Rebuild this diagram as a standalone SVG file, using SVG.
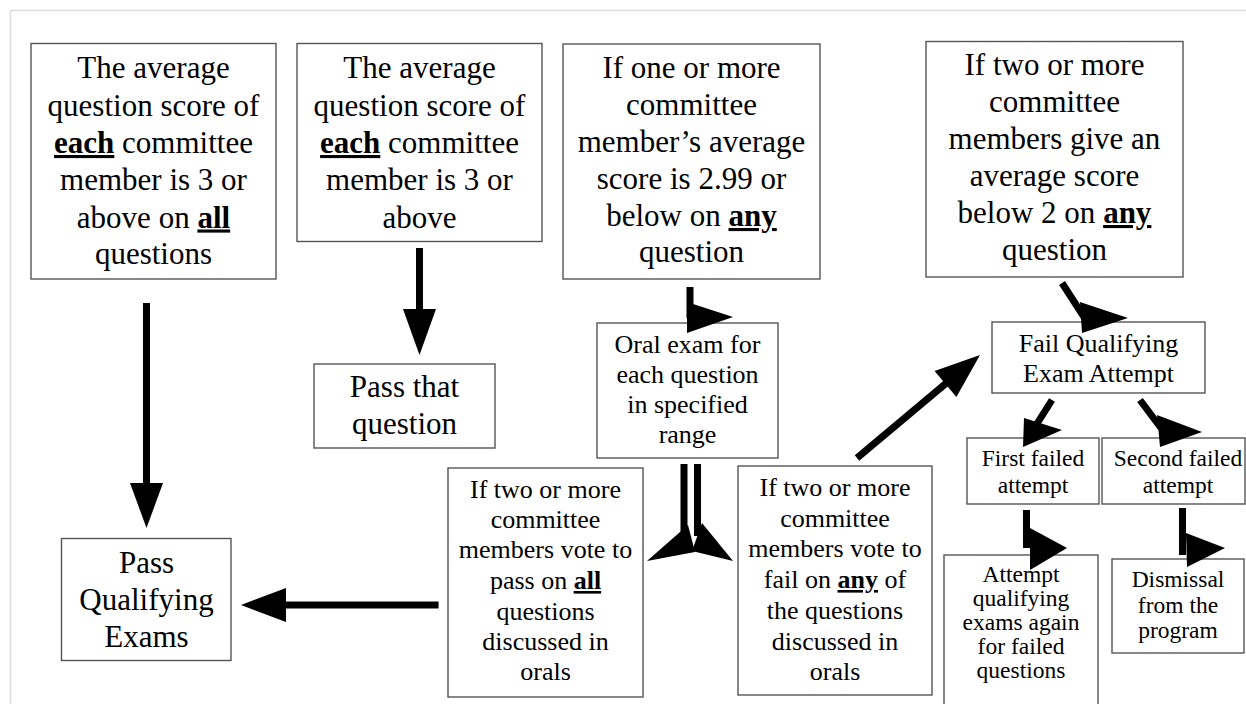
<svg xmlns="http://www.w3.org/2000/svg" width="1246" height="704" viewBox="0 0 1246 704">
<style>
.box{fill:#fff;stroke:#555;stroke-width:1.4}
.t{font-family:"Liberation Serif","Times New Roman",serif;fill:#000;text-anchor:middle}
.l{font-size:31px}
.m{font-size:26px}
.s{font-size:23.5px}
.b{font-weight:bold;text-decoration:underline}
.sh{stroke:#000;stroke-width:7;fill:none}
.hd{fill:#000}
</style>
<rect x="0" y="0" width="1246" height="704" fill="#fff"/>
<path d="M10.5 704 V10.5 H1246" fill="none" stroke="#dcdcdc" stroke-width="1.5"/>

<g id="n1">
<rect class="box" x="31" y="43.5" width="245" height="235.5"/>
<text class="t l" x="153.5" y="78">The average</text>
<text class="t l" x="153.5" y="115.5">question score of</text>
<text class="t l" x="153.5" y="153"><tspan class="b">each</tspan> committee</text>
<text class="t l" x="153.5" y="190">member is 3 or</text>
<text class="t l" x="153.5" y="227.5">above on <tspan class="b">all</tspan></text>
<text class="t l" x="153.5" y="264">questions</text>
</g>

<g id="n2">
<rect class="box" x="297" y="43.5" width="245" height="198"/>
<text class="t l" x="419.5" y="78">The average</text>
<text class="t l" x="419.5" y="115.5">question score of</text>
<text class="t l" x="419.5" y="153"><tspan class="b">each</tspan> committee</text>
<text class="t l" x="419.5" y="190">member is 3 or</text>
<text class="t l" x="419.5" y="227.5">above</text>
</g>

<g id="n3">
<rect class="box" x="563" y="44" width="257" height="235"/>
<text class="t l" x="691.5" y="78">If one or more</text>
<text class="t l" x="691.5" y="115">committee</text>
<text class="t l" x="691.5" y="152">member’s average</text>
<text class="t l" x="691.5" y="189">score is 2.99 or</text>
<text class="t l" x="691.5" y="226">below on <tspan class="b">any</tspan></text>
<text class="t l" x="691.5" y="262">question</text>
</g>

<g id="n4">
<rect class="box" x="926" y="41.5" width="257" height="235.5"/>
<text class="t l" x="1054.5" y="75">If two or more</text>
<text class="t l" x="1054.5" y="112">committee</text>
<text class="t l" x="1054.5" y="149">members give an</text>
<text class="t l" x="1054.5" y="186">average score</text>
<text class="t l" x="1054.5" y="223">below 2 on <tspan class="b">any</tspan></text>
<text class="t l" x="1054.5" y="260">question</text>
</g>

<g id="n5">
<rect class="box" x="314" y="364" width="181" height="84"/>
<text class="t l" x="404.5" y="397">Pass that</text>
<text class="t l" x="404.5" y="434">question</text>
</g>

<g id="n6">
<rect class="box" x="597" y="323" width="181" height="135"/>
<text class="t m" x="687.5" y="353">Oral exam for</text>
<text class="t m" x="687.5" y="383">each question</text>
<text class="t m" x="687.5" y="413">in specified</text>
<text class="t m" x="687.5" y="443">range</text>
</g>

<g id="n7">
<rect class="box" x="992" y="322" width="213" height="71"/>
<text class="t m" x="1098.5" y="352">Fail Qualifying</text>
<text class="t m" x="1098.5" y="382">Exam Attempt</text>
</g>

<g id="n8">
<rect class="box" x="967" y="438" width="132" height="66"/>
<text class="t s" x="1033" y="466">First failed</text>
<text class="t s" x="1033" y="493">attempt</text>
</g>

<g id="n9">
<rect class="box" x="1102" y="438" width="143" height="66"/>
<text class="t s" x="1178" y="466">Second failed</text>
<text class="t s" x="1178" y="493">attempt</text>
</g>

<g id="n10">
<rect class="box" x="61.5" y="538.5" width="169.5" height="122"/>
<text class="t l" x="146.5" y="573">Pass</text>
<text class="t l" x="146.5" y="610">Qualifying</text>
<text class="t l" x="146.5" y="647">Exams</text>
</g>

<g id="n11">
<rect class="box" x="448" y="468" width="195" height="229"/>
<text class="t m" x="545.5" y="498">If two or more</text>
<text class="t m" x="545.5" y="528">committee</text>
<text class="t m" x="545.5" y="558">members vote to</text>
<text class="t m" x="545.5" y="589">pass on <tspan class="b">all</tspan></text>
<text class="t m" x="545.5" y="620">questions</text>
<text class="t m" x="545.5" y="650">discussed in</text>
<text class="t m" x="545.5" y="680">orals</text>
</g>

<g id="n12">
<rect class="box" x="738" y="466" width="194" height="229"/>
<text class="t m" x="835" y="496">If two or more</text>
<text class="t m" x="835" y="527">committee</text>
<text class="t m" x="835" y="557">members vote to</text>
<text class="t m" x="835" y="588">fail on <tspan class="b">any</tspan> of</text>
<text class="t m" x="835" y="619">the questions</text>
<text class="t m" x="835" y="650">discussed in</text>
<text class="t m" x="835" y="680">orals</text>
</g>

<g id="n13">
<rect class="box" x="944" y="555" width="154" height="160"/>
<text class="t s" x="1021" y="582">Attempt</text>
<text class="t s" x="1021" y="606">qualifying</text>
<text class="t s" x="1021" y="630">exams again</text>
<text class="t s" x="1021" y="654">for failed</text>
<text class="t s" x="1021" y="678">questions</text>
</g>

<g id="n14">
<rect class="box" x="1112" y="559" width="132" height="94"/>
<text class="t s" x="1178" y="587">Dismissal</text>
<text class="t s" x="1178" y="613">from the</text>
<text class="t s" x="1178" y="638">program</text>
</g>

<g id="connectors">
<line class="sh" x1="146.5" y1="303" x2="146.5" y2="486"/>
<polygon class="hd" points="130,483 163,483 146.5,528"/>
<line class="sh" x1="419.5" y1="248" x2="419.5" y2="312"/>
<polygon class="hd" points="403,309 436,309 419.5,355"/>
<line class="sh" x1="690" y1="287" x2="690" y2="318"/>
<polygon class="hd" points="687,302 733,317 687,333"/>
<line class="sh" x1="1062" y1="283" x2="1086" y2="320"/>
<polygon class="hd" points="1080,302 1128,318 1082,333"/>
<line class="sh" x1="857" y1="458" x2="950" y2="380"/>
<polygon class="hd" points="934.6,371 980,355 956.4,397"/>
<line class="sh" x1="684" y1="464" x2="684" y2="540"/>
<line class="sh" x1="697.5" y1="464" x2="697.5" y2="536"/>
<polygon class="hd" points="688,525 647,561 695,552"/>
<polygon class="hd" points="702,523 733,561 692,551"/>
<line class="sh" x1="438.6" y1="605" x2="283" y2="605"/>
<polygon class="hd" points="286,588 241,605 286,622"/>
<line class="sh" x1="1052" y1="400" x2="1033" y2="430"/>
<polygon class="hd" points="1024,418 1062,430 1023,447"/>
<line class="sh" x1="1140" y1="400" x2="1161" y2="428"/>
<polygon class="hd" points="1157,415 1202,432 1160,447"/>
<line class="sh" x1="1026.5" y1="510" x2="1026.5" y2="548"/>
<polygon class="hd" points="1030,528 1067,548 1030,570"/>
<line class="sh" x1="1182.5" y1="508" x2="1182.5" y2="555"/>
<polygon class="hd" points="1186,533 1225,548 1187,567"/>
</g>
</svg>
